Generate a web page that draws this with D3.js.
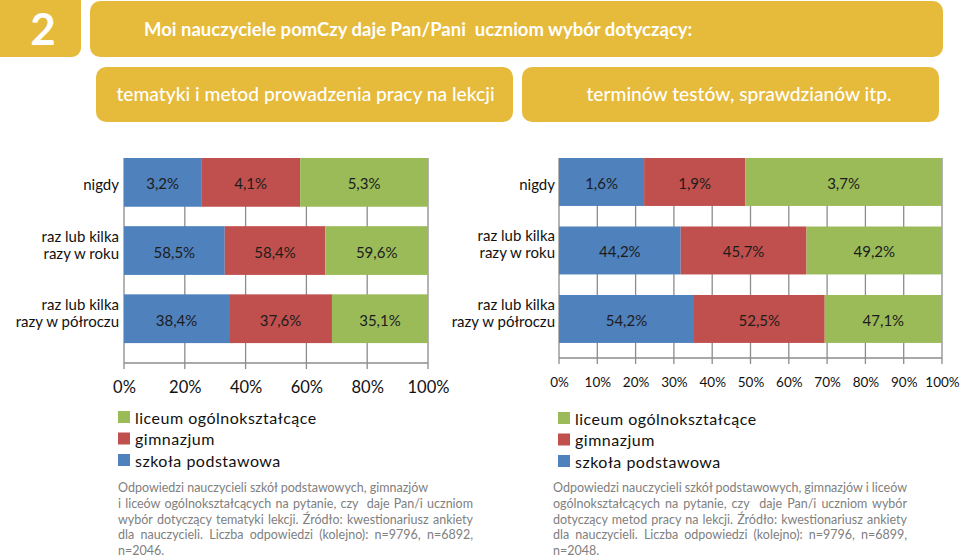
<!DOCTYPE html>
<html>
<head>
<meta charset="utf-8">
<script src="https://cdn.jsdelivr.net/npm/d3@7"></script>
<style>
  html, body { margin: 0; padding: 0; background: #fff; }
  svg { display: block; font-family: Lato, "Open Sans", sans-serif; }
</style>
</head>
<body>
<svg id="chart" width="960" height="557"></svg>
<script>
// ---------- data ----------
const categories = ["nigdy", "raz lub kilka razy w roku", "raz lub kilka razy w półroczu"];
const categoryLines = [["nigdy"], ["raz lub kilka", "razy w roku"], ["raz lub kilka", "razy w półroczu"]];
const seriesNames = ["szkoła podstawowa", "gimnazjum", "liceum ogólnokształcące"];
const seriesColors = ["#4F81BD", "#C0504D", "#9BBB59"];

// left chart: tematyki i metod prowadzenia pracy na lekcji
const leftPodstawowa = [3.2, 58.5, 38.4];
const leftGimnazjum  = [4.1, 58.4, 37.6];
const leftLiceum     = [5.3, 59.6, 35.1];
const leftTicks = [0, 0.2, 0.4, 0.6, 0.8, 1];

// right chart: terminów testów, sprawdzianów itp.
const rightPodstawowa = [1.6, 44.2, 54.2];
const rightGimnazjum  = [1.9, 45.7, 52.5];
const rightLiceum     = [3.7, 49.2, 47.1];
const rightTicks = [0, 0.1, 0.2, 0.3, 0.4, 0.5, 0.6, 0.7, 0.8, 0.9, 1];

const mainTitle = "Moi nauczyciele pomCzy daje Pan/Pani  uczniom wybór dotyczący:";
const sectionNumber = "2";
const leftSubtitle = "tematyki i metod prowadzenia pracy na lekcji";
const rightSubtitle = "terminów testów, sprawdzianów itp.";

const leftNote = [
  "Odpowiedzi nauczycieli szkół podstawowych, gimnazjów",
  "i liceów ogólnokształcących na pytanie, czy  daje Pan/i uczniom",
  "wybór dotyczący tematyki lekcji. Źródło: kwestionariusz ankiety",
  "dla nauczycieli. Liczba odpowiedzi (kolejno): n=9796, n=6892,",
  "n=2046."
];
const leftNoteJustify = [false, true, true, true, false];
const rightNote = [
  "Odpowiedzi nauczycieli szkół podstawowych, gimnazjów i liceów",
  "ogólnokształcących na pytanie, czy  daje Pan/i uczniom wybór",
  "dotyczący metod pracy na lekcji. Źródło: kwestionariusz ankiety",
  "dla nauczycieli. Liczba odpowiedzi (kolejno): n=9796, n=6899,",
  "n=2048."
];
const rightNoteJustify = [true, true, true, true, false];

// ---------- drawing ----------
const svg = d3.select("#chart");
const gold = "#E6BA3A";

// header boxes
svg.append("rect").attr("x", -12).attr("y", -12).attr("width", 93).attr("height", 69).attr("rx", 9).attr("fill", gold);
svg.append("text").attr("x", 43).attr("y", 45).attr("text-anchor", "middle")
  .attr("font-size", 44).attr("font-weight", 700).attr("fill", "#fff").text(sectionNumber);

svg.append("rect").attr("x", 90).attr("y", 1).attr("width", 853).attr("height", 56).attr("rx", 10).attr("fill", gold);
svg.append("text").attr("x", 144).attr("y", 36).attr("font-size", 18.5).attr("font-weight", 700)
  .attr("fill", "#fff").style("white-space", "pre").text(mainTitle);

svg.append("rect").attr("x", 96).attr("y", 67).attr("width", 417).attr("height", 55).attr("rx", 10).attr("fill", gold);
svg.append("text").attr("x", 305.5).attr("y", 101).attr("text-anchor", "middle").attr("font-size", 19.2)
  .attr("font-weight", 500).attr("fill", "#fff").text(leftSubtitle);

svg.append("rect").attr("x", 522).attr("y", 67).attr("width", 417).attr("height", 55).attr("rx", 10).attr("fill", gold);
svg.append("text").attr("x", 739).attr("y", 101).attr("text-anchor", "middle").attr("font-size", 19.2)
  .attr("font-weight", 500).attr("fill", "#fff").text(rightSubtitle);

function drawChart(opts) {
  const { x0, x1, top, axisY, bandwidthRatio, values, ticks, labelRight, tickLabelY, tickFont } = opts;
  const g = svg.append("g");
  const rows = categories.map((c, i) => ({
    category: c,
    [seriesNames[0]]: values[0][i],
    [seriesNames[1]]: values[1][i],
    [seriesNames[2]]: values[2][i]
  }));
  const stacked = d3.stack().keys(seriesNames).offset(d3.stackOffsetExpand)(rows);

  const x = d3.scaleLinear().domain([0, 1]).range([x0, x1]);
  const y = d3.scaleBand().domain(categories).range([top, axisY])
    .paddingInner(1 - bandwidthRatio).paddingOuter(opts.paddingOuter).align(0);

  // gridlines
  g.append("g").selectAll("line").data(ticks).join("line")
    .attr("x1", d => x(d)).attr("x2", d => x(d))
    .attr("y1", top).attr("y2", axisY + 6)
    .attr("stroke", "#8c8c8c").attr("stroke-width", 1.3);

  // axis line
  g.append("line").attr("x1", x0).attr("x2", x1).attr("y1", axisY).attr("y2", axisY)
    .attr("stroke", "#8c8c8c").attr("stroke-width", 1.3);

  // tick labels via axis
  const axis = d3.axisBottom(x).tickValues(ticks).tickFormat(d3.format(".0%")).tickSize(0).tickPadding(0);
  const ag = g.append("g").attr("transform", `translate(0,${tickLabelY})`).call(axis);
  ag.select(".domain").remove();
  ag.selectAll("text").attr("font-size", tickFont).attr("font-family", "Lato, sans-serif")
    .attr("fill", "#111").attr("dy", null).attr("dominant-baseline", "central");

  // bars
  stacked.forEach((s, si) => {
    g.append("g").selectAll("rect").data(s).join("rect")
      .attr("x", d => x(d[0])).attr("width", d => x(d[1]) - x(d[0]))
      .attr("y", d => y(d.data.category)).attr("height", y.bandwidth())
      .attr("fill", seriesColors[si]);
    g.append("g").selectAll("text").data(s).join("text")
      .attr("x", d => (x(d[0]) + x(d[1])) / 2)
      .attr("y", d => y(d.data.category) + y.bandwidth() / 2 + 1)
      .attr("text-anchor", "middle").attr("dominant-baseline", "central")
      .attr("font-size", 15).attr("fill", "#1c1c1c")
      .text(d => d3.format(".1f")(d.data[seriesNames[si]]).replace(".", ",") + "%");
  });

  // category labels
  categories.forEach((c, i) => {
    const cy = y(c) + y.bandwidth() / 2;
    const lines = categoryLines[i];
    lines.forEach((ln, li) => {
      const off = lines.length === 1 ? 2 : (li === 0 ? -15 : 2);
      g.append("text").attr("text-anchor", "end").attr("font-size", 15).attr("fill", "#111")
        .attr("x", labelRight).attr("y", cy + off).attr("dominant-baseline", "central").text(ln);
    });
  });
}

drawChart({ x0: 124, x1: 428, top: 158, axisY: 363, bandwidthRatio: 0.715, paddingOuter: 0.146,
  values: [leftPodstawowa, leftGimnazjum, leftLiceum], ticks: leftTicks, labelRight: 119, tickLabelY: 387, tickFont: 16.5 });
drawChart({ x0: 559, x1: 942, top: 158, axisY: 358, bandwidthRatio: 0.70, paddingOuter: 0.11,
  values: [rightPodstawowa, rightGimnazjum, rightLiceum], ticks: rightTicks, labelRight: 555, tickLabelY: 382, tickFont: 13.5 });

// legends
function drawLegend(lx, ly) {
  const order = [2, 1, 0];
  const lg = svg.append("g");
  order.forEach((si, k) => {
    const cy = ly + k * 21.5;
    lg.append("rect").attr("x", lx).attr("y", cy - 6).attr("width", 12).attr("height", 12).attr("fill", seriesColors[si]);
    lg.append("text").attr("x", lx + 17).attr("y", cy).attr("dominant-baseline", "central")
      .attr("font-size", 16).attr("letter-spacing", 0.5).attr("fill", "#111").text(seriesNames[si]);
  });
}
drawLegend(118, 417);
drawLegend(558, 418);

// footnotes (justified)
function drawNote(lines, justify, nx, nx2, ny) {
  const ng = svg.append("g");
  lines.forEach((ln, i) => {
    const t = ng.append("text").attr("x", nx).attr("y", ny + i * 15.8)
      .attr("font-size", 12.5).attr("fill", "#808080").style("white-space", "pre").text(ln);
    if (justify[i]) {
      const w = t.node().getComputedTextLength();
      const spaces = (ln.match(/ /g) || []).length;
      if (spaces > 0) t.attr("word-spacing", (nx2 - nx - w) / spaces);
    }
  });
}
drawNote(leftNote, leftNoteJustify, 118, 473, 492);
drawNote(rightNote, rightNoteJustify, 553, 907, 492);
</script>
</body>
</html>
